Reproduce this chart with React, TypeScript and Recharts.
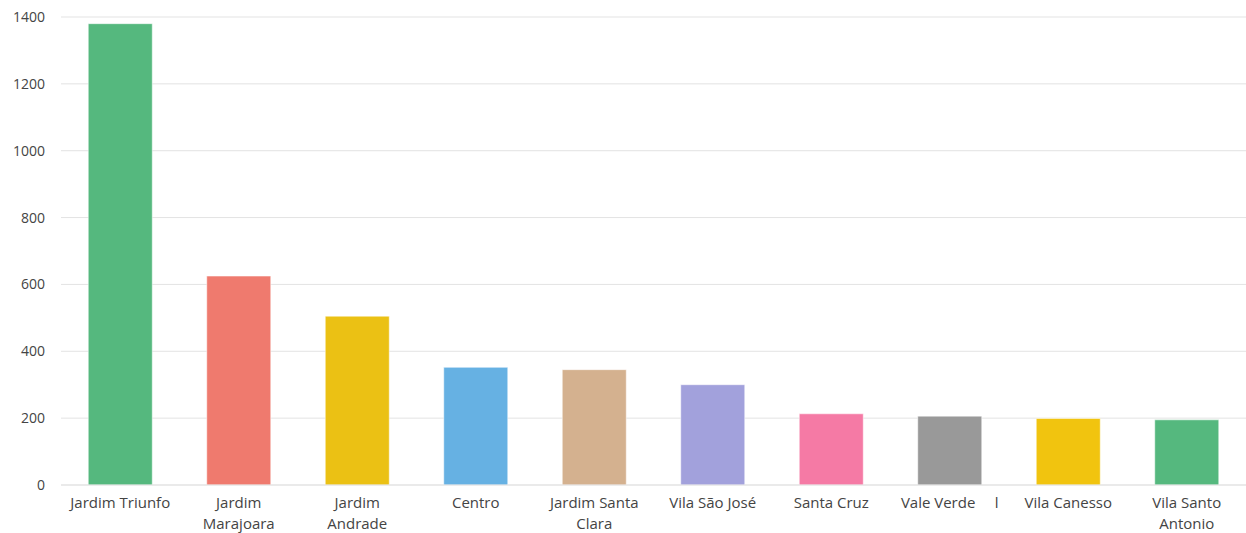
import { BarChart, Bar, XAxis, YAxis, CartesianGrid, Cell } from 'recharts';

const bairros = [
    'Jardim Triunfo',
    'Jardim Marajoara',
    'Jardim Andrade',
    'Centro',
    'Jardim Santa Clara',
    'Vila São José',
    'Santa Cruz',
    'Vale Verde',
    'Vila Canesso',
    'Vila Santo Antonio',
];

const quantidades = [1380, 625, 505, 352, 345, 300, 213, 206, 199, 195];

const tickLabels = [
    ['Jardim Triunfo'],
    ['Jardim', 'Marajoara'],
    ['Jardim', 'Andrade'],
    ['Centro'],
    ['Jardim Santa', 'Clara'],
    ['Vila São José'],
    ['Santa Cruz'],
    ['Vale Verde\u00a0\u00a0\u00a0\u00a0\u00a0l'],
    ['Vila Canesso'],
    ['Vila Santo', 'Antonio'],
];

const yTicks = [0, 200, 400, 600, 800, 1000, 1200, 1400];

const colors = [
    '#55b87e', '#ef7a6e', '#ebc114', '#66b1e3', '#d4b18f',
    '#a2a1dc', '#f57aa5', '#999999', '#f1c40f', '#55b87e',
];

const data = bairros.map((name, i) => ({ name, value: quantidades[i] }));

const FONT = '"Open Sans", "Noto Sans", sans-serif';

const BairroTick = (props: any) => {
    const { x, y, payload } = props;
    const lines = tickLabels[payload.index] || [payload.value];
    return (
        <text x={x} y={y} textAnchor="middle" fill="#444" fontSize={15} fontFamily={FONT}>
            {lines.map((line, i) => (
                <tspan key={i} x={x} dy={i === 0 ? 15 : 21}>{line}</tspan>
            ))}
        </text>
    );
};

export default function App() {
    return (
        <div style={{ position: 'absolute', left: 0, top: 0, width: 1246, height: 533, background: '#fff' }}>
            <BarChart
                width={1246}
                height={533}
                data={data}
                margin={{ top: 17, right: 0, bottom: 8, left: 0 }}
                barCategoryGap="23%"
            >
                <CartesianGrid vertical={false} stroke="#e3e3e3" />
                <XAxis
                    dataKey="name"
                    interval={0}
                    height={40}
                    axisLine={{ stroke: '#e3e3e3' }}
                    tickLine={false}
                    tick={<BairroTick />}
                />
                <YAxis
                    width={61}
                    domain={[0, 1400]}
                    ticks={yTicks}
                    axisLine={false}
                    tickLine={false}
                    tickMargin={10}
                    tick={{ fill: '#444', fontSize: 14, fontFamily: FONT }}
                />
                <Bar dataKey="value" isAnimationActive={false}>
                    {data.map((d, i) => (
                        <Cell key={d.name} fill={colors[i]} stroke="rgba(255,255,255,0.5)" strokeWidth={1} />
                    ))}
                </Bar>
            </BarChart>
        </div>
    );
}
